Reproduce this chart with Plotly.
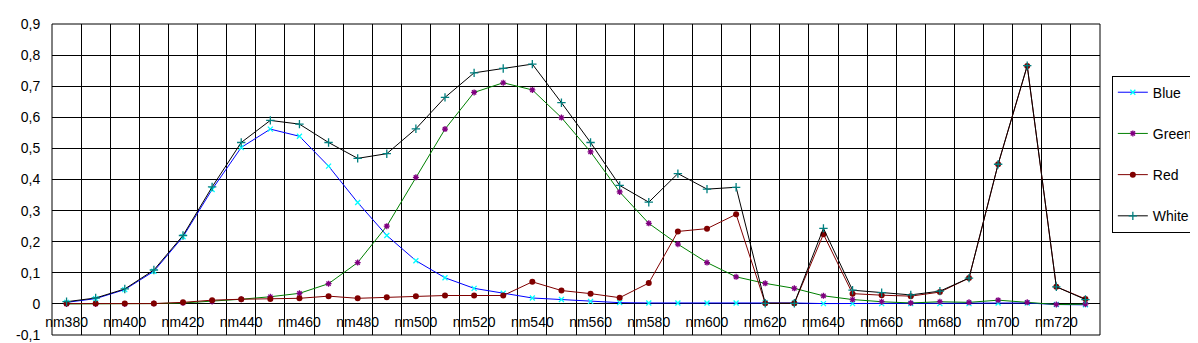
import plotly.graph_objects as go

categories = ["nm%d" % w for w in range(380, 740, 10)]
blue = [0.005, 0.017, 0.046, 0.105, 0.216, 0.368, 0.503, 0.562, 0.539, 0.443, 0.326, 0.220,
        0.139, 0.084, 0.050, 0.034, 0.019, 0.014, 0.008, 0.004, 0.003, 0.003, 0.003, 0.003,
        0.004, 0.003, 0.001, 0.001, 0.001, 0.001, 0.001, 0.001, 0.003, 0.003, -0.002, -0.003]
green = [0.000, 0.000, 0.000, 0.001, 0.003, 0.008, 0.015, 0.023, 0.034, 0.065, 0.133, 0.250,
         0.407, 0.562, 0.680, 0.711, 0.688, 0.599, 0.489, 0.360, 0.259, 0.192, 0.133, 0.087,
         0.066, 0.050, 0.026, 0.014, 0.007, 0.003, 0.007, 0.005, 0.012, 0.005, -0.002, -0.001]
red = [0.001, 0.001, 0.001, 0.001, 0.005, 0.012, 0.015, 0.016, 0.018, 0.025, 0.018, 0.021,
       0.025, 0.027, 0.027, 0.027, 0.071, 0.043, 0.033, 0.020, 0.067, 0.233, 0.242, 0.288,
       0.002, 0.002, 0.224, 0.033, 0.028, 0.025, 0.038, 0.083, 0.449, 0.765, 0.055, 0.016]
white = [0.007, 0.019, 0.048, 0.109, 0.220, 0.376, 0.519, 0.590, 0.578, 0.519, 0.468, 0.483,
         0.563, 0.664, 0.743, 0.757, 0.771, 0.647, 0.519, 0.381, 0.327, 0.419, 0.369, 0.375,
         0.002, 0.002, 0.243, 0.044, 0.036, 0.029, 0.041, 0.083, 0.449, 0.766, 0.055, 0.014]
y_ticks = [-0.1, 0.0, 0.1, 0.2, 0.3, 0.4, 0.5, 0.6, 0.7, 0.8, 0.9]
y_ticktext = ["-0,1", "0", "0,1", "0,2", "0,3", "0,4", "0,5", "0,6", "0,7", "0,8", "0,9"]

xi = list(range(len(categories)))
FONT = "Liberation Sans, Arial, sans-serif"

series = [
    ("Blue", blue, "#0000FF", dict(symbol="x-thin", size=5, color="#00FFFF", line=dict(color="#00FFFF", width=1.3))),
    ("Green", green, "#008000", dict(symbol="asterisk", size=5, color="#800080", line=dict(color="#800080", width=1.3))),
    ("Red", red, "#800000", dict(symbol="circle", size=6, color="#800000", line=dict(width=0))),
    ("White", white, "#000000", dict(symbol="cross-thin", size=6, color="#008080", line=dict(color="#008080", width=1.3))),
]

fig = go.Figure()
for name, vals, lc, mk in series:
    fig.add_trace(go.Scatter(x=xi, y=vals, name=name, mode="lines+markers",
                             line=dict(color=lc, width=1), marker=mk,
                             legendgroup=name))

fig.update_layout(
    width=1198, height=343,
    margin=dict(l=39, r=96, t=8, b=9),
    paper_bgcolor="white", plot_bgcolor="white",
    font=dict(family=FONT, size=14, color="black"),
    showlegend=True,
    legend=dict(x=1.0113, xanchor="left", y=0.834, yanchor="top",
                bordercolor="black", borderwidth=1, bgcolor="white",
                tracegroupgap=20, font=dict(size=14)),
    xaxis=dict(range=[-0.5, len(categories) - 0.5], tickmode="array",
               tickvals=xi[::2], ticktext=categories[::2],
               showgrid=False, zeroline=False, showline=False,
               ticks="outside", ticklen=5, tickcolor="rgba(0,0,0,0)",
               anchor="free", position=0.1,
               minor=dict(tick0=-0.5, dtick=1, showgrid=True, gridcolor="black", gridwidth=1, ticks="")),
    yaxis=dict(range=[-0.1, 0.9], tickmode="array", tickvals=y_ticks, ticktext=y_ticktext,
               showgrid=True, gridcolor="black", gridwidth=1, zeroline=False,
               ticks="outside", ticklen=8, tickcolor="rgba(0,0,0,0)",
               ticklabeloverflow="allow"),
    shapes=[dict(type="rect", xref="paper", yref="paper", x0=0, x1=1, y0=0, y1=1,
                 line=dict(color="black", width=1), layer="above")],
)

fig.write_html("out.html")
